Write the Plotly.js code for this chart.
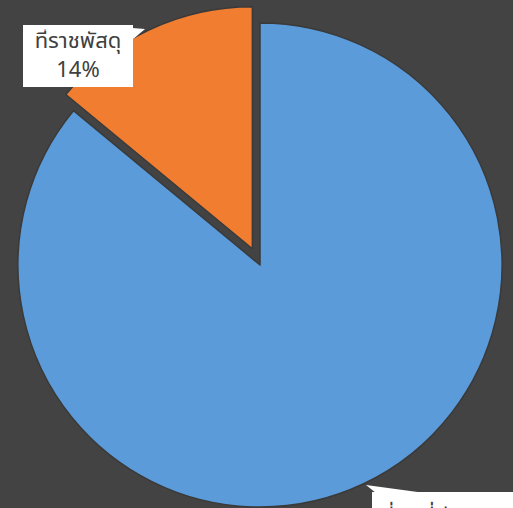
<!DOCTYPE html>
<html>
<head>
<meta charset="utf-8">
<script src="https://cdn.plot.ly/plotly-3.0.1.min.js"></script>
<style>
html,body{margin:0;padding:0;background:#434343;overflow:hidden;width:513px;height:508px;}
#chart{width:520px;height:530px;}
</style>
</head>
<body>
<div id="chart"></div>
<script>
// data
var categories = ["ที่ดินที่มีกรรมสิทธิ์", "ที่ราชพัสดุ"];
var percentValues = [86, 14];
var sliceColors = ["#5b9bd9", "#f07d30"];
var pullValues = [0, 0.074];

var W = 520, H = 530;
function px(x){ return x / W; }
function py(y){ return 1 - y / H; }

var trace = {
  type: "pie",
  labels: categories,
  values: percentValues,
  sort: false,
  direction: "clockwise",
  rotation: 0,
  pull: pullValues,
  textinfo: "none",
  hoverinfo: "label+percent",
  marker: {colors: sliceColors, line: {color: "#3a3a3a", width: 1.5}},
  domain: {x: [0, 1], y: [0.00943, 0.99057]},
  showlegend: false
};

var labelFont = {family: "Tahoma, 'Leelawadee UI', 'Noto Sans Thai', 'Noto Sans', sans-serif", size: 22, color: "#404040"};

var layout = {
  width: W, height: H,
  margin: {l: 0, r: 0, t: 0, b: 0},
  paper_bgcolor: "#434343",
  plot_bgcolor: "#434343",
  showlegend: false,
  shapes: [
    {type: "path", xref: "paper", yref: "paper", layer: "above",
     path: "M " + px(132) + "," + py(28) + " L " + px(145) + "," + py(29) + " L " + px(132) + "," + py(40) + " Z",
     fillcolor: "#ffffff", line: {width: 0}},
    {type: "path", xref: "paper", yref: "paper", layer: "above",
     path: "M " + px(366) + "," + py(485) + " L " + px(376) + "," + py(493) + " L " + px(425) + "," + py(493) + " Z",
     fillcolor: "#ffffff", line: {width: 0}}
  ],
  annotations: [
    {xref: "paper", yref: "paper", x: px(23), y: py(25), xanchor: "left", yanchor: "top",
     text: categories[1] + "<br>" + percentValues[1] + "%", showarrow: false,
     font: labelFont, align: "center", bgcolor: "#ffffff", borderwidth: 0, borderpad: 4,
     width: 102, height: 54},
    {xref: "paper", yref: "paper", x: px(372), y: py(492), xanchor: "left", yanchor: "top",
     text: categories[0] + "<br>" + percentValues[0] + "%", showarrow: false,
     font: labelFont, align: "center", bgcolor: "#ffffff", borderwidth: 0, borderpad: 9}
  ]
};

Plotly.newPlot("chart", [trace], layout, {displayModeBar: false, staticPlot: true});
</script>
</body>
</html>
